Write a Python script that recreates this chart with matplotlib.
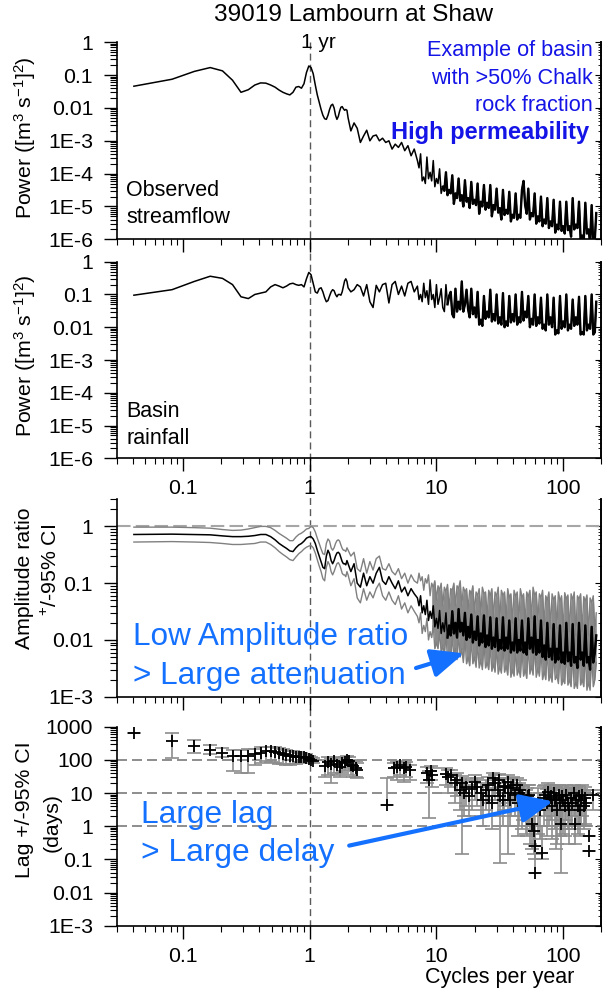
import matplotlib
matplotlib.use("Agg")
import matplotlib.pyplot as plt
import matplotlib.transforms as mtransforms
from matplotlib.lines import Line2D
from matplotlib.ticker import FixedLocator, FixedFormatter, LogLocator, NullFormatter

plt.rcParams['font.family'] = ['Liberation Sans', 'DejaVu Sans']
plt.rcParams['mathtext.fontset'] = 'custom'
plt.rcParams['mathtext.rm'] = 'Liberation Sans'
plt.rcParams['mathtext.it'] = 'Liberation Sans:italic'
plt.rcParams['mathtext.bf'] = 'Liberation Sans:bold'

# ---- data ----
# spectral frequencies, cycles per year: record harmonics up to 2, a log grid above,
# and extra in-between frequencies where the spectra get dense (above 7)
freq_low = [0.041, 0.082, 0.123, 0.164, 0.205, 0.246, 0.287, 0.328, 0.369, 0.41,
            0.451, 0.492, 0.533, 0.574, 0.615, 0.656, 0.697, 0.738, 0.779, 0.82,
            0.861, 0.902, 0.943, 0.984, 1.025, 1.066, 1.107, 1.148, 1.189, 1.23,
            1.271, 1.312, 1.353, 1.394, 1.435, 1.476, 1.517, 1.558, 1.599, 1.64,
            1.681, 1.722, 1.763, 1.804, 1.845, 1.886, 1.927, 1.968, 2.009]
freq_high = [2.113, 2.239, 2.371, 2.512, 2.661, 2.818, 2.985, 3.162, 3.350, 3.548,
             3.758, 3.981, 4.217, 4.467, 4.732, 5.012, 5.309, 5.623, 5.957, 6.310,
             6.683, 7.079, 7.499, 7.943, 8.414, 8.913, 9.441, 10.0, 10.59, 11.22,
             11.89, 12.59, 13.34, 14.13, 14.96, 15.85, 16.79, 17.78, 18.84, 19.95,
             21.13, 22.39, 23.71, 25.12, 26.61, 28.18, 29.85, 31.62, 33.50, 35.48,
             37.58, 39.81, 42.17, 44.67, 47.32, 50.12, 53.09, 56.23, 59.57, 63.10,
             66.83, 70.79, 74.99, 79.43, 84.14, 89.13, 94.41, 100.0, 105.9, 112.2,
             118.9, 125.9, 133.4, 141.3, 149.6, 158.5, 167.9, 177.8, 182.5]
freq_mid = [7.288, 7.718, 8.175, 8.660, 9.173, 9.716, 10.29, 10.90, 11.55, 12.23,
            12.96, 13.73, 14.54, 15.40, 16.31, 17.28, 18.30, 19.39, 20.54, 21.75,
            23.04, 24.41, 25.85, 27.38, 29.00, 30.72, 32.54, 34.47, 36.52, 38.68,
            40.97, 43.40, 45.97, 48.70, 51.58, 54.64, 57.88, 61.31, 64.94, 68.79,
            72.87, 77.18, 81.76, 86.60, 91.73, 97.16, 102.9, 109.0, 115.5, 122.3,
            129.6, 137.3, 145.4, 154.0, 163.1, 172.8]

# observed streamflow power
flow_low = [0.046, 0.075, 0.13, 0.17, 0.135, 0.07, 0.03, 0.036, 0.05, 0.058,
            0.057, 0.05, 0.043, 0.035, 0.03, 0.027, 0.025, 0.03, 0.043, 0.045,
            0.04, 0.055, 0.12, 0.19, 0.17, 0.11, 0.05, 0.025, 0.015, 0.009,
            0.006, 0.0047, 0.0045, 0.006, 0.009, 0.012, 0.013, 0.01, 0.006, 0.0045,
            0.0055, 0.008, 0.0105, 0.011, 0.0095, 0.0085, 0.009, 0.0085, 0.005]
flow_high = [2.0e-3, 3.5e-3, 2.4e-3, 8.9e-4, 1.4e-3, 2.1e-3, 1.0e-3, 1.4e-3, 1.5e-3, 1.0e-3,
             1.2e-3, 8.9e-4, 1.0e-3, 5.6e-4, 7.9e-4, 6.3e-4, 8.9e-4, 5.0e-4, 7.1e-4, 3.5e-4,
             5.6e-4, 2.5e-4, 4.0e-4, 7.9e-5, 3.2e-4, 1.1e-4, 2.5e-4, 7.1e-5, 1.4e-4, 4.0e-5,
             1.1e-4, 3.2e-5, 8.9e-5, 2.5e-5, 7.1e-5, 2.2e-5, 6.3e-5, 1.8e-5, 5.6e-5, 1.6e-5,
             5.0e-5, 1.4e-5, 4.5e-5, 1.3e-5, 4.5e-5, 1.1e-5, 3.5e-5, 8.9e-6, 3.2e-5, 7.9e-6,
             2.8e-5, 5.6e-6, 2.5e-5, 5.6e-6, 3.2e-5, 1.1e-5, 3.5e-5, 6.3e-6, 2.5e-5, 5.0e-6,
             2.0e-5, 4.0e-6, 1.8e-5, 3.5e-6, 1.6e-5, 2.8e-6, 1.4e-5, 2.5e-6, 1.4e-5, 2.5e-6,
             1.8e-5, 2.8e-6, 1.4e-5, 1.3e-6, 1.3e-5, 2.0e-6, 1.1e-5, 1.0e-6, 6.3e-6]
flow_mid = [1.5e-4, 6.0e-5, 5.0e-5, 7.0e-5, 6.0e-5, 4.0e-5, 5.0e-5, 2.5e-5, 3.0e-5, 2.2e-5,
            2.5e-5, 1.2e-5, 1.8e-5, 1.5e-5, 1.0e-5, 1.4e-5, 9.0e-6, 1.2e-5, 1.1e-5, 6.0e-6,
            1.0e-5, 8.0e-6, 9.0e-6, 5.0e-6, 8.0e-6, 6.5e-6, 4.0e-6, 5.5e-6, 6.0e-6, 3.5e-6,
            4.5e-6, 4.0e-6, 4.5e-6, 6.0e-5, 6.0e-6, 4.0e-6, 5.0e-6, 3.0e-6, 3.5e-6, 2.5e-6,
            3.0e-6, 2.2e-6, 2.5e-6, 1.6e-6, 2.0e-6, 1.8e-6, 1.5e-6, 1.9e-6, 1.2e-6, 2.0e-6,
            2.2e-6, 1.0e-6, 9.0e-7, 1.5e-6, 8.0e-7, 7.0e-7]

# basin rainfall power
rain_low = [0.095, 0.14, 0.25, 0.36, 0.31, 0.2, 0.085, 0.075, 0.1, 0.11,
            0.12, 0.17, 0.2, 0.18, 0.16, 0.18, 0.21, 0.22, 0.2, 0.19,
            0.2, 0.17, 0.3, 0.47, 0.4, 0.22, 0.12, 0.11, 0.15, 0.16,
            0.12, 0.08, 0.06, 0.065, 0.09, 0.12, 0.14, 0.13, 0.1, 0.085,
            0.1, 0.1, 0.095, 0.12, 0.18, 0.26, 0.3, 0.25, 0.16]
rain_high = [0.12, 0.14, 0.2, 0.17, 0.09, 0.2, 0.06, 0.04, 0.19, 0.12,
             0.2, 0.22, 0.055, 0.2, 0.25, 0.1, 0.18, 0.09, 0.22, 0.25,
             0.12, 0.18, 0.1, 0.22, 0.13, 0.28, 0.1, 0.2, 0.08, 0.04,
             0.2, 0.09, 0.025, 0.15, 0.06, 0.25, 0.05, 0.035, 0.15, 0.04,
             0.12, 0.017, 0.09, 0.03, 0.14, 0.025, 0.1, 0.02, 0.11, 0.015,
             0.09, 0.025, 0.1, 0.02, 0.12, 0.03, 0.09, 0.018, 0.1, 0.02,
             0.08, 0.012, 0.1, 0.02, 0.08, 0.008, 0.09, 0.015, 0.1, 0.012,
             0.07, 0.02, 0.085, 0.007, 0.09, 0.012, 0.1, 0.007, 0.06]
rain_mid = [0.07, 0.06, 0.08, 0.05, 0.07, 0.04, 0.05, 0.15, 0.03, 0.05,
            0.12, 0.02, 0.03, 0.035, 0.03, 0.14, 0.02, 0.025, 0.02, 0.012,
            0.011, 0.018, 0.02, 0.015, 0.016, 0.013, 0.012, 0.01, 0.011, 0.014,
            0.015, 0.012, 0.014, 0.016, 0.02, 0.01, 0.012, 0.011, 0.013, 0.009,
            0.008, 0.012, 0.01, 0.006, 0.0065, 0.009, 0.01, 0.008, 0.009, 0.011,
            0.012, 0.006, 0.006, 0.008, 0.009, 0.006]

# amplitude ratio and its 95% CI
amp_low = [0.72, 0.73, 0.72, 0.71, 0.68, 0.66, 0.66, 0.67, 0.69, 0.72,
           0.72, 0.66, 0.58, 0.5, 0.45, 0.41, 0.37, 0.36, 0.42, 0.47,
           0.5, 0.55, 0.62, 0.65, 0.66, 0.6, 0.5, 0.38, 0.3, 0.24,
           0.19, 0.18, 0.3, 0.38, 0.33, 0.25, 0.22, 0.25, 0.3, 0.34,
           0.35, 0.33, 0.28, 0.24, 0.22, 0.22, 0.21, 0.25, 0.22]
amp_high = [0.16, 0.22, 0.1, 0.085, 0.15, 0.09, 0.13, 0.1, 0.15, 0.19,
            0.11, 0.095, 0.13, 0.1, 0.08, 0.11, 0.07, 0.085, 0.06, 0.08,
            0.065, 0.055, 0.06, 0.04, 0.05, 0.032, 0.04, 0.024, 0.033, 0.02,
            0.03, 0.018, 0.032, 0.02, 0.035, 0.02, 0.03, 0.017, 0.028, 0.014,
            0.026, 0.013, 0.027, 0.012, 0.025, 0.011, 0.024, 0.01, 0.025, 0.011,
            0.022, 0.009, 0.024, 0.01, 0.022, 0.009, 0.024, 0.011, 0.026, 0.01,
            0.022, 0.008, 0.02, 0.007, 0.019, 0.007, 0.018, 0.006, 0.02, 0.006,
            0.019, 0.005, 0.02, 0.006, 0.018, 0.005, 0.017, 0.006, 0.012]
amp_mid = [0.04, 0.03, 0.028, 0.022, 0.024, 0.017, 0.016, 0.013, 0.014, 0.011,
           0.012, 0.013, 0.011, 0.014, 0.012, 0.01, 0.011, 0.009, 0.01, 0.008,
           0.009, 0.0075, 0.008, 0.007, 0.0075, 0.0065, 0.007, 0.0065, 0.007, 0.006,
           0.0065, 0.006, 0.0065, 0.006, 0.0055, 0.007, 0.006, 0.0055, 0.006, 0.005,
           0.0045, 0.005, 0.0045, 0.004, 0.0045, 0.004, 0.0038, 0.0042, 0.0035, 0.004,
           0.0032, 0.0045, 0.0035, 0.004, 0.003, 0.004]
amp_up_low = [0.97, 0.97, 0.95, 0.93, 0.88, 0.85, 0.86, 0.9, 0.95, 1.0,
              1.0, 0.95, 0.85, 0.75, 0.68, 0.62, 0.56, 0.56, 0.65, 0.72,
              0.76, 0.82, 0.9, 0.92, 1.0, 0.95, 0.8, 0.62, 0.5, 0.4,
              0.33, 0.32, 0.5, 0.6, 0.55, 0.42, 0.38, 0.42, 0.5, 0.56,
              0.58, 0.55, 0.47, 0.41, 0.38, 0.38, 0.36, 0.42, 0.38]
amp_up_high = [0.3, 0.35, 0.18, 0.16, 0.27, 0.15, 0.24, 0.17, 0.27, 0.3,
               0.18, 0.17, 0.22, 0.16, 0.14, 0.18, 0.12, 0.15, 0.1, 0.14,
               0.11, 0.1, 0.11, 0.075, 0.1, 0.06, 0.085, 0.05, 0.075, 0.04,
               0.07, 0.035, 0.075, 0.04, 0.08, 0.04, 0.07, 0.035, 0.065, 0.03,
               0.06, 0.028, 0.065, 0.025, 0.06, 0.024, 0.058, 0.022, 0.06, 0.024,
               0.055, 0.02, 0.058, 0.022, 0.055, 0.02, 0.058, 0.024, 0.06, 0.022,
               0.055, 0.018, 0.05, 0.016, 0.05, 0.016, 0.048, 0.014, 0.052, 0.014,
               0.05, 0.012, 0.052, 0.014, 0.048, 0.012, 0.045, 0.014, 0.03]
amp_up_mid = [0.15, 0.13, 0.12, 0.14, 0.1, 0.11, 0.09, 0.1, 0.085, 0.095,
              0.08, 0.1, 0.09, 0.11, 0.085, 0.08, 0.075, 0.09, 0.07, 0.08,
              0.085, 0.07, 0.075, 0.08, 0.07, 0.085, 0.075, 0.07, 0.08, 0.065,
              0.075, 0.07, 0.08, 0.065, 0.07, 0.075, 0.085, 0.07, 0.065, 0.075,
              0.06, 0.07, 0.065, 0.06, 0.07, 0.06, 0.068, 0.062, 0.065, 0.07,
              0.06, 0.065, 0.058, 0.062, 0.055, 0.06]
amp_lo_low = [0.53, 0.54, 0.53, 0.52, 0.5, 0.48, 0.48, 0.49, 0.5, 0.53,
              0.53, 0.48, 0.42, 0.36, 0.32, 0.29, 0.26, 0.25, 0.29, 0.33,
              0.36, 0.4, 0.43, 0.45, 0.46, 0.42, 0.34, 0.26, 0.2, 0.16,
              0.12, 0.11, 0.19, 0.24, 0.21, 0.16, 0.14, 0.16, 0.19, 0.22,
              0.23, 0.21, 0.18, 0.15, 0.14, 0.14, 0.13, 0.16, 0.14]
amp_lo_high = [0.09, 0.12, 0.055, 0.045, 0.08, 0.05, 0.07, 0.055, 0.08, 0.1,
               0.06, 0.05, 0.07, 0.05, 0.042, 0.06, 0.035, 0.045, 0.03, 0.04,
               0.032, 0.026, 0.03, 0.018, 0.024, 0.014, 0.018, 0.009, 0.014, 0.008,
               0.013, 0.006, 0.012, 0.007, 0.013, 0.007, 0.011, 0.005, 0.01, 0.005,
               0.009, 0.0045, 0.009, 0.004, 0.008, 0.0038, 0.008, 0.0035, 0.008, 0.0035,
               0.007, 0.003, 0.007, 0.0032, 0.007, 0.003, 0.008, 0.0035, 0.0085, 0.0032,
               0.007, 0.0028, 0.0065, 0.0025, 0.006, 0.0024, 0.006, 0.002, 0.0065, 0.002,
               0.006, 0.0018, 0.0065, 0.002, 0.006, 0.0018, 0.0055, 0.002, 0.004]
amp_lo_mid = [0.02, 0.013, 0.014, 0.01, 0.011, 0.007, 0.007, 0.006, 0.0055, 0.0045,
              0.0045, 0.005, 0.0045, 0.005, 0.004, 0.0038, 0.0035, 0.0038, 0.0033, 0.0032,
              0.003, 0.0032, 0.003, 0.0028, 0.0027, 0.0025, 0.0026, 0.0027, 0.0024, 0.0022,
              0.0023, 0.0024, 0.0022, 0.0023, 0.0021, 0.0025, 0.0024, 0.0022, 0.0023, 0.002,
              0.002, 0.0019, 0.0018, 0.002, 0.0017, 0.0016, 0.0017, 0.0016, 0.0015, 0.0014,
              0.0014, 0.0016, 0.0015, 0.0013, 0.0013, 0.0015]

# lag (days) with lower / upper 95% CI
lag_freq = [0.041, 0.082, 0.123, 0.164, 0.205, 0.246, 0.287, 0.328, 0.369, 0.41,
            0.451, 0.492, 0.533, 0.574, 0.615, 0.656, 0.697, 0.738, 0.779, 0.82,
            0.861, 0.902, 0.943, 0.984, 1.025, 1.066,
            1.31, 1.39, 1.47, 1.55, 1.64, 1.72, 1.8, 1.89, 1.97, 2.05, 2.13, 2.21, 2.3, 2.38,
            4.1, 4.6, 4.9, 5.2, 5.5, 5.8, 6.2,
            8.4, 8.7, 9.0, 9.3,
            11.8, 12.3, 13.0, 14.0, 14.6, 15.3, 15.9, 16.5, 17.2, 18.0, 19.0,
            21, 22.5, 23.5, 24.5, 26, 27.5, 29, 30.5, 32, 33.5, 35, 36.5, 38, 40,
            42, 44, 46, 48, 50.5, 53, 55, 57, 58.5, 59.5, 60.5, 63, 66, 68.5,
            70, 72, 74, 76, 78, 80, 82, 84, 86, 88, 90, 92, 94, 96, 98, 100,
            103, 106, 109, 112, 115, 118, 121, 124, 127, 130, 133, 136, 139, 142,
            145, 148, 152, 160, 161, 172,
            20, 25.5, 28, 31, 34, 37, 39, 43, 45, 47, 52, 54]
lag_days = [660, 370, 260, 205, 165, 135, 130, 130, 150, 165,
            180, 185, 175, 165, 155, 145, 135, 130, 125, 125,
            120, 118, 112, 105, 100, 95,
            65, 85, 75, 90, 70, 60, 80, 85, 100, 90, 70, 65, 55, 50,
            4.3, 55, 60, 70, 55, 60, 48,
            40, 25, 45, 35,
            38, 30, 35, 20, 25, 12, 20, 10, 15, 8, 13,
            15, 10, 6, 12, 8, 5, 20, 12, 8, 6, 15, 10, 6, 18,
            9, 5, 12, 7, 4.5, 8, 3, 1.2, 0.7, 0.04, 0.26, 5, 3, 0.16,
            7, 9, 5, 11, 6, 8, 4, 10, 6, 7, 3, 9, 5, 1.2, 8, 6,
            4, 9, 5, 3, 7, 5, 10, 1.2, 6, 4, 8, 3, 6, 9,
            4, 7, 5, 0.52, 0.18, 8.5,
            22, 18, 28, 25, 16, 22, 14, 17, 10, 8, 6, 9]
lag_low = [660, 115, 160, 150, 120, 45, 40, 40, 70, 80,
           90, 85, 80, 75, 75, 70, 70, 75, 75, 80,
           85, 85, 85, 85, 85, 80,
           30, 35, 20, 40, 35, 30, 40, 45, 55, 50, 35, 30, 30, 28,
           4.3, 30, 25, 35, 22, 30, 25,
           20, 1.8, 25, 15,
           18, 10, 15, 5, 8, 3, 0.15, 2, 4, 2, 3,
           4, 2, 1, 3, 2, 0.8, 6, 2, 0.08, 1, 4, 0.15, 1, 5,
           2, 0.5, 3, 1.5, 0.6, 1, 0.3, 0.2, 0.15, 0.04, 0.1, 0.6, 0.4, 0.1,
           1, 2, 0.5, 3, 1, 1.5, 0.4, 2, 0.8, 0.2, 0.3, 1, 0.5, 0.04, 1.5, 0.6,
           0.5, 1.5, 0.8, 0.3, 1, 0.8, 2, 0.3, 1, 0.6, 1.2, 0.5, 1, 2,
           0.8, 1.2, 1, 0.52, 0.18, 3,
           6, 5, 8, 6, 3, 5, 2, 3, 1, 0.8, 0.5, 1]
lag_high = [660, 650, 400, 280, 230, 200, 200, 210, 220, 240,
            250, 250, 240, 230, 220, 200, 190, 180, 170, 165,
            160, 155, 150, 130, 120, 115,
            100, 120, 110, 120, 100, 90, 110, 120, 130, 120, 100, 95, 90, 80,
            28, 80, 85, 95, 80, 85, 70,
            60, 45, 65, 55,
            55, 50, 50, 35, 40, 25, 32, 22, 28, 18, 25,
            28, 20, 15, 25, 18, 14, 35, 25, 20, 15, 28, 22, 16, 30,
            20, 14, 24, 16, 12, 18, 10, 6, 4, 0.25, 2, 14, 10, 1,
            16, 18, 13, 20, 14, 17, 12, 18, 14, 15, 10, 17, 12, 8, 16, 14,
            11, 17, 13, 10, 15, 12, 18, 6, 14, 11, 16, 9, 13, 17,
            11, 15, 12, 0.52, 0.18, 12,
            35, 30, 40, 38, 28, 35, 26, 28, 20, 16, 14, 18]

power_ticks = [1, 0.1, 0.01, 1e-3, 1e-4, 1e-5, 1e-6]
power_labels = ['1', '0.1', '0.01', '1E-3', '1E-4', '1E-5', '1E-6']
amp_ticks = [1, 0.1, 0.01, 1e-3]
amp_labels = ['1', '0.1', '0.01', '1E-3']
lag_ticks = [1000, 100, 10, 1, 0.1, 0.01, 1e-3]
lag_labels = ['1000', '100', '10', '1', '0.1', '0.01', '1E-3']
x_ticks = [0.1, 1, 10, 100]
x_labels = ['0.1', '1', '10', '100']


def series(low, high, mid):
    # put the three frequency groups together in frequency order
    pairs = sorted(zip(freq_low + freq_high + freq_mid, low + high + mid))
    return [p[0] for p in pairs], [p[1] for p in pairs]


freq, flow_power = series(flow_low, flow_high, flow_mid)
_, rain_power = series(rain_low, rain_high, rain_mid)
_, amp_ratio = series(amp_low, amp_high, amp_mid)
_, amp_upper = series(amp_up_low, amp_up_high, amp_up_mid)
_, amp_lower = series(amp_lo_low, amp_lo_high, amp_lo_mid)

# ---- layout ----
W, H = 604, 990
fig = plt.figure(figsize=(W / 100, H / 100), dpi=100)


def fx(px):
    return px / W


def fy(py):
    return 1 - py / H


def add_panel(top, bottom, ylim, yticks, ylabels, show_x):
    ax = fig.add_axes([fx(116.7), fy(bottom), fx(601.3) - fx(116.7), (bottom - top) / H])
    ax.set_xscale('log')
    ax.set_yscale('log')
    ax.set_xlim(0.03, 200)
    ax.set_ylim(*ylim)
    ax.set_facecolor('none')
    ax.spines['top'].set_visible(False)
    for s in ('left', 'bottom', 'right'):
        ax.spines[s].set_linewidth(1.2)
    ax.yaxis.set_major_locator(FixedLocator(yticks))
    ax.yaxis.set_major_formatter(FixedFormatter(ylabels))
    ax.yaxis.set_minor_locator(LogLocator(base=10, subs=range(2, 10), numticks=30))
    ax.yaxis.set_minor_formatter(NullFormatter())
    ax.xaxis.set_major_locator(FixedLocator(x_ticks))
    ax.xaxis.set_major_formatter(FixedFormatter(x_labels if show_x else [''] * 4))
    ax.xaxis.set_minor_locator(LogLocator(base=10, subs=range(2, 10), numticks=30))
    ax.xaxis.set_minor_formatter(NullFormatter())
    ax.tick_params(axis='y', which='major', direction='out', length=9.5, width=1,
                   pad=7.5, labelsize=15.3, right=False)
    ax.tick_params(axis='y', which='minor', direction='out', length=5, width=0.8, right=False)
    ax.tick_params(axis='x', which='major', direction='out', length=9, width=1,
                   pad=6.2, labelsize=15.3, top=False)
    ax.tick_params(axis='x', which='minor', direction='out', length=4.5, width=0.8, top=False)
    sec = ax.secondary_yaxis('right')
    sec.set_yticks(yticks)
    sec.yaxis.set_major_formatter(NullFormatter())
    sec.yaxis.set_minor_locator(LogLocator(base=10, subs=range(2, 10), numticks=30))
    sec.yaxis.set_minor_formatter(NullFormatter())
    sec.tick_params(which='major', direction='in', length=4, width=0.8)
    sec.tick_params(which='minor', direction='in', length=2.5, width=0.6)
    sec.spines['right'].set_linewidth(1.2)
    return ax


def spectrum(ax, x, y, f_dense, color, z):
    # thin where resolved; a heavier stroke where the record packs into a band
    ax.plot(x, y, color=color, lw=1.1, zorder=z)
    i = next(k for k, f in enumerate(x) if f >= f_dense)
    ax.plot(x[i:], y[i:], color=color, lw=1.7, zorder=z)


ax1 = add_panel(42.3, 239.3, (1e-6, 1), power_ticks, power_labels, False)
ax2 = add_panel(261.7, 458.3, (1e-6, 1), power_ticks, power_labels, True)
ax3 = add_panel(499.3, 696.7, (1e-3, 3), amp_ticks, amp_labels, False)
ax4 = add_panel(726.7, 925.7, (1e-3, 1000), lag_ticks, lag_labels, True)

# 1-year dashed line running through all panels
trans = mtransforms.blended_transform_factory(ax1.transData, fig.transFigure)
fig.add_artist(Line2D([1, 1], [fy(42.3), fy(925.7)], transform=trans, color='#5a5a5a',
                      lw=1.0, ls=(0, (5, 3)), zorder=-1))

spectrum(ax1, freq, flow_power, 11.0, 'black', 2)
spectrum(ax2, freq, rain_power, 12.0, 'black', 2)

ax3.axhline(1, color='#a6a6a6', lw=1.5, ls=(0, (6.5, 2.5)), zorder=1)
i9 = next(i for i, f in enumerate(freq) if f >= 9.0)
ax3.fill_between(freq[i9:], amp_lower[i9:], amp_upper[i9:], color='#8a8a8a', lw=0, zorder=2)
ax3.plot(freq, amp_upper, color='#808080', lw=1.0, zorder=2)
ax3.plot(freq, amp_lower, color='#808080', lw=1.0, zorder=2)
spectrum(ax3, freq, amp_ratio, 12.0, 'black', 3)

for v in (100, 10, 1):
    ax4.axhline(v, color='#7a7a7a', lw=1.2, ls=(0, (6, 3)), zorder=1)
yerr = [[d - lo for d, lo in zip(lag_days, lag_low)],
        [hi - d for d, hi in zip(lag_days, lag_high)]]
ax4.errorbar(lag_freq, lag_days, yerr=yerr, fmt='none', ecolor='#8c8c8c',
             elinewidth=1.2, capsize=5, capthick=1.2, zorder=2)
ax4.plot(lag_freq, lag_days, '+', color='black', ms=8.5, mew=1.3, zorder=3)

# ---- text ----
fig.text(fx(354), fy(15), '39019 Lambourn at Shaw', ha='center', va='center', fontsize=17.6)
fig.text(fx(318), fy(43), '1 yr', ha='center', va='center', fontsize=15)

fig.text(fx(25), fy(138), 'Power ([m$^3$ s$^{-1}$]$^2$)', rotation=90,
         ha='center', va='center', fontsize=15.3)
fig.text(fx(25), fy(356), 'Power ([m$^3$ s$^{-1}$]$^2$)', rotation=90,
         ha='center', va='center', fontsize=15.3)
fig.text(fx(25), fy(578), 'Amplitude ratio', rotation=90, ha='center', va='center', fontsize=15.3)
fig.text(fx(51), fy(570), '$^{+}$/-95% CI', rotation=90, ha='center', va='center', fontsize=15.3)
fig.text(fx(24), fy(810), 'Lag +/-95% CI', rotation=90, ha='center', va='center', fontsize=15.3)
fig.text(fx(52), fy(822), '(days)', rotation=90, ha='center', va='center', fontsize=15.3)
fig.text(fx(500), fy(978), 'Cycles per year', ha='center', va='center', fontsize=15.5)

fig.text(fx(126), fy(204), 'Observed\nstreamflow', ha='left', va='center',
         fontsize=15.5, linespacing=1.35)
fig.text(fx(126), fy(425), 'Basin\nrainfall', ha='left', va='center',
         fontsize=15.5, linespacing=1.38)

dark_blue = '#1414e6'
fig.text(fx(593), fy(78), 'Example of basin\nwith >50% Chalk\nrock fraction', ha='right',
         va='center', ma='right', fontsize=15.6, color=dark_blue, linespacing=1.39)
fig.text(fx(589), fy(132), 'High permeability', ha='right', va='center',
         fontsize=17, fontweight='bold', color=dark_blue)

blue = '#1470ff'
fig.text(fx(133), fy(656.5), 'Low Amplitude ratio\n> Large attenuation', ha='left',
         va='center', fontsize=22.7, color=blue, linespacing=1.35)
fig.text(fx(140.6), fy(834), 'Large lag\n> Large delay', ha='left', va='center',
         fontsize=22.9, color=blue, linespacing=1.39)

arrow = dict(arrowstyle='-|>,head_length=1.25,head_width=0.55', lw=3, color=blue,
             mutation_scale=16, shrinkA=0, shrinkB=0)
ax3.annotate('', xy=(16.5, 0.0058), xytext=(6.9, 0.0032), arrowprops=arrow)
ax4.annotate('', xy=(83, 5.6), xytext=(2.05, 0.26), arrowprops=arrow)

fig.savefig('out.png', dpi=100)
